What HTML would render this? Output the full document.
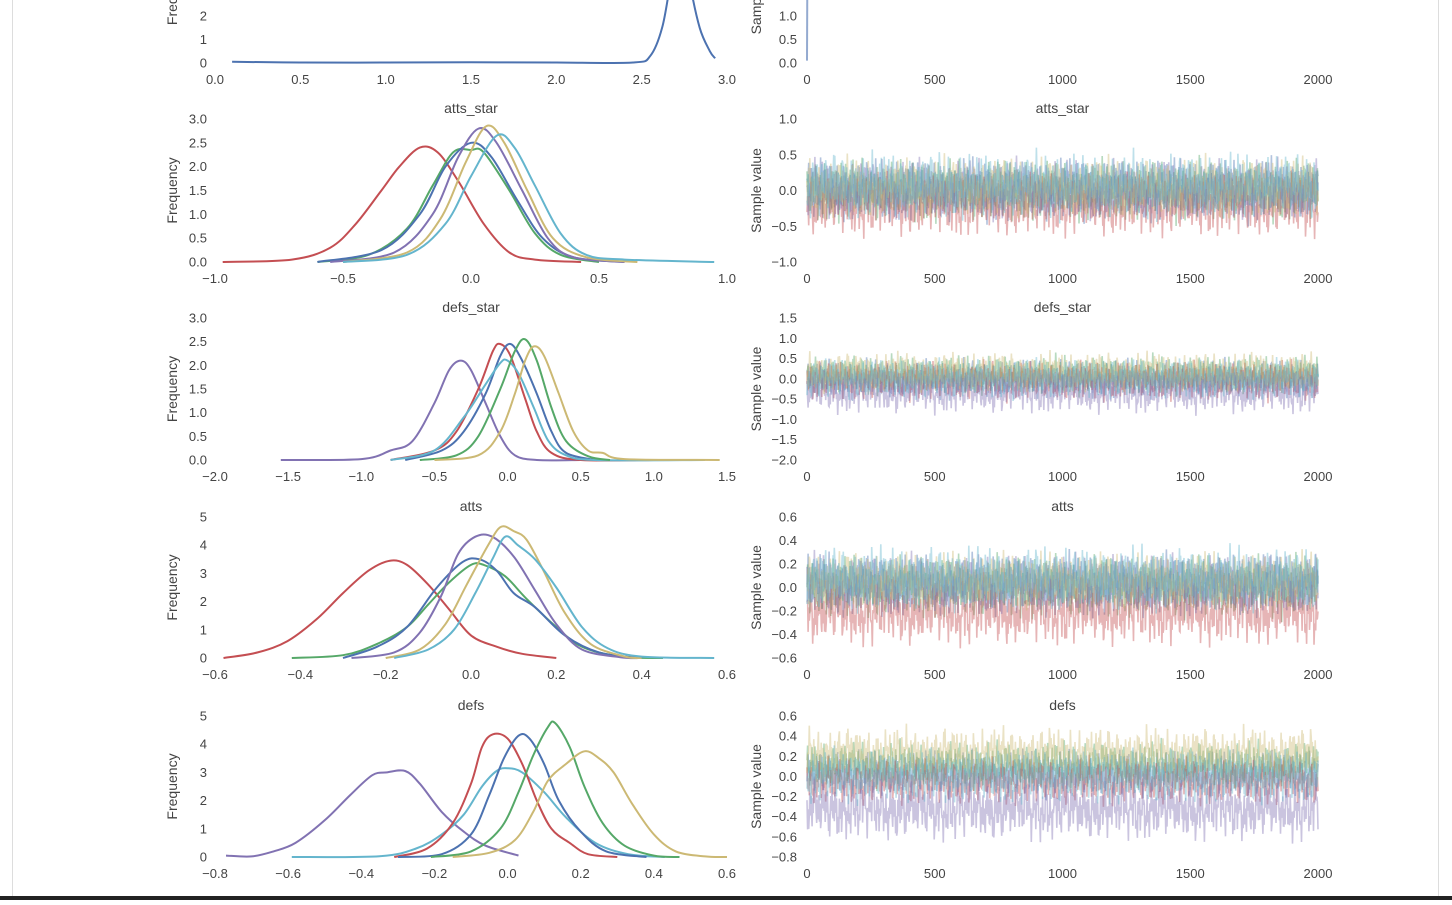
<!DOCTYPE html>
<html><head><meta charset="utf-8"><style>
html,body{margin:0;padding:0;background:#fff;}
body{width:1452px;height:900px;overflow:hidden;position:relative;font-family:"Liberation Sans",sans-serif;}
svg text{font-family:"Liberation Sans",sans-serif;fill:#444;}
</style></head><body>
<svg id="chart" width="1452" height="900" xmlns="http://www.w3.org/2000/svg">
<rect x="0" y="0" width="1452" height="900" fill="#fff"/>
<line x1="12.5" y1="0" x2="12.5" y2="897" stroke="#ddd"/>
<line x1="1438.5" y1="0" x2="1438.5" y2="897" stroke="#ddd"/>
<rect x="0" y="896" width="1452" height="4" fill="#222"/>
</svg>
<script>
const palette = {blue:"#4C72B0",green:"#55A868",red:"#C44E52",purple:"#8172B2",yellow:"#CCB974",cyan:"#64B5CD"};
const panelTitles = ["", "atts_star", "defs_star", "atts", "defs"];
const kdeXTicks = [[0,0.5,1,1.5,2,2.5,3],[-1,-0.5,0,0.5,1],[-2,-1.5,-1,-0.5,0,0.5,1,1.5],[-0.6,-0.4,-0.2,0,0.2,0.4,0.6],[-0.8,-0.6,-0.4,-0.2,0,0.2,0.4,0.6]];
const kdeYTicks = [[0,1,2],[0,0.5,1,1.5,2,2.5,3],[0,0.5,1,1.5,2,2.5,3],[0,1,2,3,4,5],[0,1,2,3,4,5]];
const kdeXRange = [[0,3],[-1,1],[-2,1.5],[-0.6,0.6],[-0.8,0.6]];
const kdeYRange = [[0,2],[0,3],[0,3],[0,5],[0,5]];
const traceYTicks = [[0,0.5,1],[-1,-0.5,0,0.5,1],[-2,-1.5,-1,-0.5,0,0.5,1,1.5],[-0.6,-0.4,-0.2,0,0.2,0.4,0.6],[-0.8,-0.6,-0.4,-0.2,0,0.2,0.4,0.6]];
const traceYRange = [[0,1],[-1,1],[-2,1.5],[-0.6,0.6],[-0.8,0.6]];
const traceXTicks = [0,500,1000,1500,2000];

const kde0 = {blue:[[0.1,0.05],[0.5,0.02],[1.0,0.02],[1.5,0.03],[2.0,0.02],[2.45,0.02],[2.55,0.3],[2.62,1.5],[2.67,3.5],[2.73,6],[2.78,3.5],[2.84,1.5],[2.9,0.5],[2.93,0.2]]};
const kde1 = {
 red:[[-0.97,0],[-0.7,0.05],[-0.55,0.3],[-0.45,0.8],[-0.35,1.5],[-0.28,2.0],[-0.2,2.4],[-0.13,2.3],[-0.05,1.7],[0.05,0.8],[0.15,0.2],[0.25,0.05],[0.43,0]],
 green:[[-0.6,0],[-0.4,0.15],[-0.25,0.7],[-0.15,1.6],[-0.07,2.3],[0.0,2.35],[0.05,2.3],[0.15,1.5],[0.25,0.6],[0.35,0.15],[0.5,0]],
 blue:[[-0.6,0],[-0.35,0.25],[-0.2,1.0],[-0.1,2.0],[0.0,2.5],[0.08,2.2],[0.18,1.3],[0.28,0.5],[0.4,0.1],[0.6,0]],
 purple:[[-0.55,0],[-0.3,0.2],[-0.15,1.0],[-0.05,2.2],[0.03,2.8],[0.1,2.5],[0.2,1.5],[0.3,0.5],[0.4,0.1],[0.6,0]],
 yellow:[[-0.5,0],[-0.25,0.2],[-0.12,0.9],[-0.02,2.1],[0.06,2.85],[0.13,2.5],[0.22,1.5],[0.32,0.5],[0.45,0.1],[0.65,0]],
 cyan:[[-0.5,0],[-0.25,0.15],[-0.1,0.8],[0.0,1.8],[0.1,2.65],[0.17,2.4],[0.25,1.6],[0.35,0.6],[0.45,0.15],[0.6,0.05],[0.95,0]]};
const kde2 = {
 purple:[[-1.55,0],[-1.0,0.02],[-0.8,0.2],[-0.65,0.4],[-0.5,1.2],[-0.4,1.9],[-0.32,2.1],[-0.25,1.9],[-0.15,1.2],[-0.05,0.5],[0.05,0.1],[0.2,0],[0.5,0]],
 red:[[-0.8,0],[-0.5,0.2],[-0.35,0.6],[-0.2,1.5],[-0.1,2.3],[-0.05,2.45],[0.02,2.2],[0.12,1.3],[0.2,0.6],[0.3,0.15],[0.5,0],[1.0,0]],
 blue:[[-0.7,0],[-0.45,0.2],[-0.3,0.6],[-0.15,1.4],[-0.05,2.2],[0.02,2.45],[0.1,2.1],[0.2,1.4],[0.3,0.6],[0.4,0.15],[0.6,0]],
 cyan:[[-0.8,0],[-0.5,0.2],[-0.3,0.9],[-0.15,1.6],[-0.05,2.05],[0.0,2.1],[0.08,1.8],[0.18,1.1],[0.28,0.4],[0.4,0.1],[0.6,0],[1.35,0]],
 green:[[-0.6,0],[-0.35,0.1],[-0.2,0.5],[-0.05,1.5],[0.05,2.3],[0.12,2.55],[0.2,2.1],[0.3,1.1],[0.4,0.4],[0.55,0.08],[0.7,0]],
 yellow:[[-0.5,0],[-0.2,0.1],[-0.05,0.6],[0.05,1.4],[0.12,2.1],[0.18,2.4],[0.25,2.2],[0.35,1.4],[0.45,0.6],[0.55,0.2],[0.65,0.15],[0.8,0.02],[1.45,0]]};
const kde3 = {
 red:[[-0.58,0],[-0.5,0.2],[-0.43,0.6],[-0.36,1.4],[-0.3,2.3],[-0.24,3.1],[-0.19,3.45],[-0.15,3.3],[-0.1,2.6],[-0.05,1.7],[0.0,0.8],[0.06,0.4],[0.12,0.15],[0.2,0]],
 green:[[-0.42,0],[-0.3,0.1],[-0.22,0.5],[-0.15,1.1],[-0.1,1.9],[-0.05,2.7],[0.0,3.3],[0.03,3.3],[0.08,2.9],[0.13,2.1],[0.2,1.1],[0.26,0.4],[0.35,0.05],[0.45,0]],
 blue:[[-0.3,0],[-0.22,0.4],[-0.15,1.1],[-0.08,2.5],[-0.02,3.4],[0.02,3.5],[0.06,3.1],[0.1,2.3],[0.15,1.8],[0.22,0.8],[0.3,0.2],[0.4,0]],
 purple:[[-0.28,0],[-0.18,0.2],[-0.12,0.9],[-0.07,2.2],[-0.03,3.7],[0.01,4.3],[0.05,4.3],[0.1,3.6],[0.15,2.4],[0.2,1.2],[0.26,0.3],[0.35,0.03],[0.4,0]],
 yellow:[[-0.2,0],[-0.12,0.3],[-0.06,1.2],[-0.01,2.6],[0.04,4.0],[0.07,4.65],[0.1,4.5],[0.13,4.2],[0.17,3.1],[0.22,1.6],[0.28,0.5],[0.36,0.05],[0.4,0]],
 cyan:[[-0.18,0],[-0.1,0.3],[-0.04,1.0],[0.01,2.3],[0.05,3.5],[0.08,4.3],[0.11,4.0],[0.15,3.5],[0.2,2.5],[0.26,1.1],[0.32,0.35],[0.4,0.05],[0.57,0]]};
const kde4 = {
 purple:[[-0.77,0.05],[-0.7,0.02],[-0.64,0.2],[-0.58,0.5],[-0.5,1.3],[-0.43,2.2],[-0.37,2.9],[-0.33,3.0],[-0.28,3.05],[-0.24,2.6],[-0.18,1.6],[-0.12,0.9],[-0.06,0.4],[0.03,0.05]],
 cyan:[[-0.59,0],[-0.35,0.03],[-0.25,0.3],[-0.18,0.8],[-0.12,1.5],[-0.07,2.5],[-0.03,3.05],[0.0,3.15],[0.04,3.0],[0.1,2.3],[0.16,1.4],[0.24,0.5],[0.33,0.1],[0.43,0]],
 red:[[-0.31,0],[-0.22,0.3],[-0.15,1.2],[-0.1,2.6],[-0.07,3.9],[-0.04,4.35],[0.0,4.2],[0.04,3.3],[0.08,2.0],[0.12,1.0],[0.17,0.5],[0.22,0.1],[0.3,0]],
 blue:[[-0.3,0],[-0.18,0.1],[-0.1,0.8],[-0.05,2.2],[-0.01,3.5],[0.03,4.3],[0.06,4.2],[0.1,3.3],[0.14,2.0],[0.2,0.9],[0.27,0.2],[0.38,0]],
 green:[[-0.21,0],[-0.1,0.2],[-0.02,1.0],[0.03,2.3],[0.07,3.6],[0.11,4.6],[0.13,4.75],[0.17,3.9],[0.21,2.5],[0.26,1.2],[0.32,0.4],[0.4,0.05],[0.47,0]],
 yellow:[[-0.15,0],[-0.05,0.15],[0.02,0.6],[0.07,1.6],[0.11,2.7],[0.16,3.3],[0.21,3.75],[0.25,3.5],[0.29,3.0],[0.34,1.9],[0.4,0.8],[0.46,0.2],[0.54,0.02],[0.6,0]]};
const kdeSeries = [kde0,kde1,kde2,kde3,kde4];

const traceChainColors = ["blue","green","red","purple","yellow","cyan"];
const traceCenters = [[2.7],[0.0,0.0,-0.2,0.03,0.05,0.07],[0.0,0.1,-0.05,-0.3,0.17,0.0],[0.02,0.01,-0.2,0.04,0.07,0.08],[0.03,0.12,-0.05,-0.32,0.22,0.0]];
const traceSpreads = [[0],[0.36,0.36,0.36,0.34,0.34,0.38],[0.4,0.4,0.4,0.45,0.4,0.4],[0.22,0.22,0.24,0.2,0.19,0.22],[0.19,0.19,0.19,0.26,0.22,0.22]];

const svg = document.getElementById('chart');
const NS = "http://www.w3.org/2000/svg";
function mk(tag, attrs, parent){const e=document.createElementNS(NS,tag);for(const k in attrs)e.setAttribute(k,attrs[k]);(parent||svg).appendChild(e);return e;}
const axisBottoms = [63,262,460,658,857];
const axisTops = [16,119,318,517,716];
const L0=215,L1=727,R0=807,R1=1318;
function fmt(v,dec){return (v<0?"\u2212":"")+Math.abs(v).toFixed(dec);}
function smoothPath(pts){
  let d="M"+pts[0][0].toFixed(1)+","+pts[0][1].toFixed(1);
  for(let i=0;i<pts.length-1;i++){
    const p0=pts[i-1]||pts[i],p1=pts[i],p2=pts[i+1],p3=pts[i+2]||p2;
    const c1=[p1[0]+(p2[0]-p0[0])/6,p1[1]+(p2[1]-p0[1])/6];
    const c2=[p2[0]-(p3[0]-p1[0])/6,p2[1]-(p3[1]-p1[1])/6];
    d+=" C"+c1[0].toFixed(1)+","+c1[1].toFixed(1)+" "+c2[0].toFixed(1)+","+c2[1].toFixed(1)+" "+p2[0].toFixed(1)+","+p2[1].toFixed(1);
  }
  return d;
}
const defs = mk('defs',{});
for(let r=0;r<5;r++){
  const cpL = mk('clipPath',{id:'clipL'+r},defs);
  mk('rect',{x:L0-2,y:(r===0?0:axisTops[r]-30),width:L1-L0+4,height:axisBottoms[r]-(r===0?0:axisTops[r]-30)+2},cpL);
  const cpR = mk('clipPath',{id:'clipR'+r},defs);
  mk('rect',{x:R0-1,y:(r===0?0:axisTops[r]-10),width:R1-R0+2,height:axisBottoms[r]-(r===0?0:axisTops[r]-10)+2},cpR);
}
for(let r=0;r<5;r++){
  const yb=axisBottoms[r], yt=axisTops[r];
  const labelMid = r===0 ? yb-71 : (yb+yt)/2;
  const g = mk('g',{});
  
  
  const xr=kdeXRange[r], yr=kdeYRange[r];
  const xs=v=>L0+(v-xr[0])/(xr[1]-xr[0])*(L1-L0);
  const ys=v=>yb-(v-yr[0])/(yr[1]-yr[0])*(yb-yt);
  const ydec = kdeYTicks[r].some(v=>v%1!==0)?1:0;
  kdeYTicks[r].forEach(v=>{
    const t=mk('text',{x:207,y:ys(v)+4.5,'text-anchor':'end','font-size':13},g);
    t.textContent = ydec?fmt(v,1):fmt(v,0);
    
    
  });
  kdeXTicks[r].forEach(v=>{
    const t=mk('text',{x:xs(v),y:yb+21,'text-anchor':'middle','font-size':13},g);
    t.textContent = fmt(v,1);
    
    
  });
  const yl=mk('text',{x:0,y:0,'text-anchor':'middle','font-size':14,transform:'translate(177,'+labelMid+') rotate(-90)'},g);
  yl.textContent='Frequency';
  
  
  if(panelTitles[r]){
    const tt=mk('text',{x:(L0+L1)/2,y:yt-6,'text-anchor':'middle','font-size':14},g);
    tt.textContent=panelTitles[r];
    
    
  }
  const cg=mk('g',{'clip-path':'url(#clipL'+r+')'},g);
  const series=kdeSeries[r];
  for(const c in series){
    const pts=series[c].map(p=>[xs(p[0]),ys(p[1])]);
    const p=mk('path',{d:smoothPath(pts),fill:'none',stroke:palette[c],'stroke-width':2,'stroke-linejoin':'round'},cg);
    
    
  }
  const h = mk('g',{});
  
  
  const tyr=traceYRange[r];
  const tys=v=>yb-(v-tyr[0])/(tyr[1]-tyr[0])*(yb-yt);
  const txs=v=>R0+v/2000*(R1-R0);
  traceYTicks[r].forEach(v=>{
    const t=mk('text',{x:797,y:tys(v)+4.5,'text-anchor':'end','font-size':13},h);
    t.textContent = fmt(v,1);
    
    
  });
  traceXTicks.forEach(v=>{
    const t=mk('text',{x:txs(v),y:yb+21,'text-anchor':'middle','font-size':13},h);
    t.textContent = String(v);
    
    
  });
  const yl2=mk('text',{x:0,y:0,'text-anchor':'middle','font-size':14,transform:'translate(761,'+labelMid+') rotate(-90)'},h);
  yl2.textContent='Sample value';
  
  
  if(panelTitles[r]){
    const tt=mk('text',{x:(R0+R1)/2,y:yt-6,'text-anchor':'middle','font-size':14},h);
    tt.textContent=panelTitles[r];
    
    
  }
  const tg=mk('g',{'clip-path':'url(#clipR'+r+')'},h);
  if(r===0){
    const p=mk('path',{d:'M'+txs(0)+','+tys(0.05)+' L'+txs(2)+','+tys(traceCenters[0][0]),stroke:palette.blue,'stroke-width':2,fill:'none','stroke-opacity':0.6},tg);
    
    
  } else {
    traceChainColors.forEach((c,i)=>{
      const ctr=traceCenters[r][i], sp=traceSpreads[r][i];
      let d='';
      const N=900;
      for(let k=0;k<=N;k++){
        const tex=Math.sin(k*2.39+i*1.7+r)*0.55+Math.sin(k*0.37+i*3.1)*0.3+Math.sin(k*7.13+i)*0.45+Math.sin(k*0.071+i*2.2)*0.15;
        const v=ctr+sp*Math.max(-1.4,Math.min(1.4,tex));
        d+=(k?' L':'M')+txs(k/N*2000).toFixed(1)+','+tys(v).toFixed(1);
      }
      const p=mk('path',{d:d,stroke:palette[c],'stroke-width':1.6,fill:'none','stroke-opacity':0.42},tg);
      
      
    });
  }
}
</script>
</body></html>
